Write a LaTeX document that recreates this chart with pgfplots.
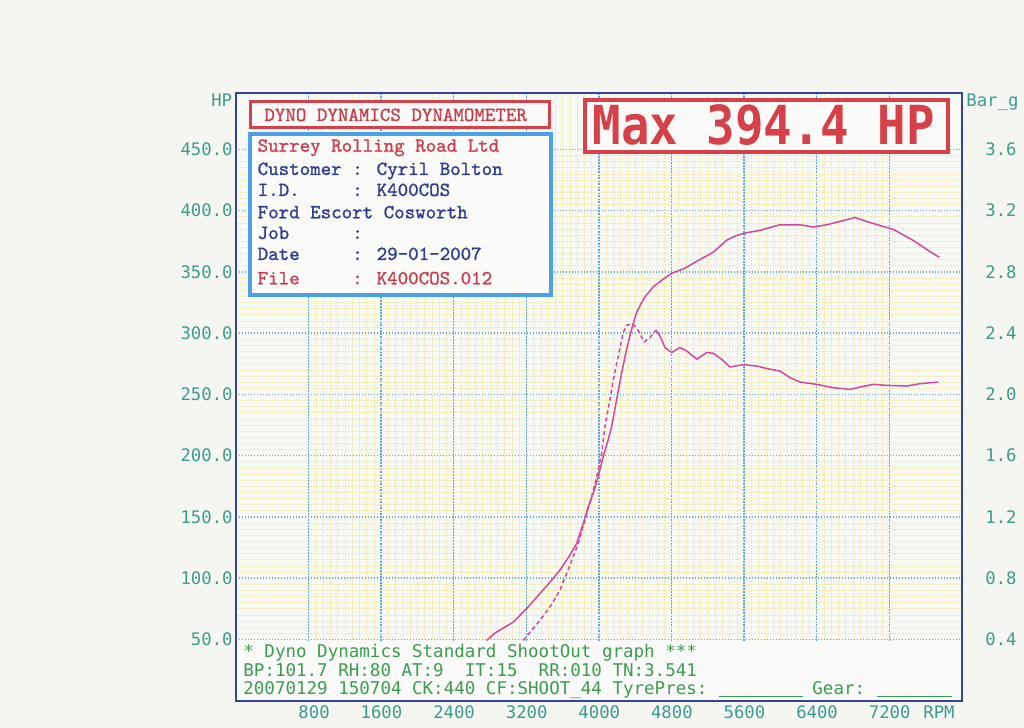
\documentclass[border=0pt]{standalone}
\usepackage{fontspec}
\usepackage{pgfplots}
\pgfplotsset{compat=1.18}
\definecolor{pagebg}{RGB}{245,245,242}
\definecolor{plotbg}{RGB}{248,248,244}
\definecolor{frameblue}{RGB}{52,66,160}
\definecolor{gridblue}{RGB}{96,164,222}
\definecolor{gridyellow}{RGB}{240,234,165}
\definecolor{curvecol}{RGB}{206,72,164}
\definecolor{tickteal}{RGB}{60,156,140}
\definecolor{infogreen}{RGB}{60,156,80}
\definecolor{boxred}{RGB}{214,64,72}
\definecolor{textred}{RGB}{200,64,80}
\definecolor{navy}{RGB}{46,62,142}
\definecolor{lightblue}{RGB}{76,160,230}
\definecolor{boxfill}{RGB}{250,250,248}
\newfontfamily\tickfont{DejaVu Sans Mono}
\newfontfamily\boxfont{lmmono10-regular.otf}[FakeBold=1.2]
\newfontfamily\maxfont{DejaVu Sans Mono}[FakeStretch=0.88]
\newcommand\tkf{\tickfont\fontsize{8.64pt}{10pt}\selectfont}
\newcommand\inff{\tickfont\fontsize{8.76pt}{10pt}\selectfont}
\newcommand\bxf{\boxfont\fontsize{10pt}{12pt}\selectfont}
\begin{document}
\begin{tikzpicture}
\fill[pagebg] (0,0) rectangle (512pt,364pt);
\begin{axis}[
  at={(118pt,13.65pt)}, anchor=south west, scale only axis,
  width=363pt, height=304pt,
  xmin=0, xmax=8000, ymin=0, ymax=496.3,
  xtick={800,1600,2400,3200,4000,4800,5600,6400,7200},
  xticklabels={800,1600,2400,3200,4000,4800,5600,6400,7200},
  ytick={50,100,150,200,250,300,350,400,450},
  yticklabels={50.0,100.0,150.0,200.0,250.0,300.0,350.0,400.0,450.0},
  minor x tick num=9, minor y tick num=9,
  grid=both,
  major grid style={draw=gridblue, line width=0.7pt, dash pattern=on 0.7pt off 0.8pt},
  minor grid style={draw=gridyellow, line width=0.35pt, dash pattern=on 1pt off 0.6pt},
  major tick length=0pt, minor tick length=0pt,
  axis line style={draw=frameblue, line width=1pt},
  axis background/.style={fill=plotbg},
  xticklabel style={font=\tkf, text=tickteal, anchor=base east, inner sep=0pt, xshift=10.75pt, yshift=-8.9pt},
  yticklabel style={font=\tkf, text=tickteal, anchor=east, inner sep=0pt, xshift=-1.5pt},
  clip=true,
]
\addplot[curvecol, line width=0.75pt] coordinates {
(2762,49.2) (2854,55.2) (3056,64.2) (3203,75.2) (3350,87.5) (3479,98.4) (3570,106.6)
(3680,118.9) (3754,128.4) (3827,144.8) (3882,158.4) (3937,169.4) (3992,183.0)
(4047,199.4) (4102,213.1) (4140,224.0) (4195,245.9) (4250,267.8) (4305,286.9)
(4360,303.3) (4415,317.0) (4470,325.0) (4510,330.0) (4600,338.0) (4704,343.9)
(4802,348.9) (4940,352.8) (5097,359.5) (5255,365.9) (5411,376.1) (5517,379.8)
(5627,382.0) (5774,383.9) (5994,388.5) (6215,388.5) (6361,386.6) (6509,388.5)
(6656,391.2) (6821,394.4) (6950,391.2) (7096,387.9) (7243,384.7) (7463,375.7)
(7647,366.6) (7750,362.0)};
\addplot[curvecol, line width=0.75pt, dash pattern=on 2pt off 1.5pt] coordinates {
(3166,49.2) (3350,65.6) (3460,76.5) (3570,90.2) (3680,110.7) (3772,128.4)
(3846,147.5) (3920,166.6) (3975,183.0) (4030,202.2) (4066,224.0) (4121,245.9)
(4158,262.3) (4213,281.4) (4268,300.6) (4305,306.6) (4378,307.4) (4433,301.9)
(4499,292.9) (4562,296.5) (4628,302.5)};
\addplot[curvecol, line width=0.75pt] coordinates {
(4628,302.5) (4672,297.8) (4727,288.3) (4801,284.2) (4892,288.3) (4966,285.5)
(5077,278.7) (5187,284.2) (5259,283.6) (5352,278.7) (5443,272.4) (5590,274.3)
(5738,273.2) (5848,271.1) (5994,269.1) (6104,263.7) (6215,260.1) (6399,258.2)
(6582,255.5) (6766,254.1) (6876,256.0) (7022,258.2) (7170,257.4) (7391,256.8)
(7537,258.8) (7739,260.1)};
\end{axis}
\begin{axis}[
  at={(118pt,13.65pt)}, anchor=south west, scale only axis,
  width=363pt, height=304pt,
  xmin=0, xmax=8000, ymin=0, ymax=3.9704,
  axis x line=none, axis y line*=right,
  y axis line style={draw=none},
  ytick={0.4,0.8,1.2,1.6,2.0,2.4,2.8,3.2,3.6},
  yticklabels={0.4,0.8,1.2,1.6,2.0,2.4,2.8,3.2,3.6},
  major tick length=0pt,
  yticklabel style={font=\tkf, text=tickteal, anchor=west, inner sep=0pt, xshift=11.5pt},
]
\end{axis}
\begin{scope}[x=0.5pt, y=-0.5pt, yshift=364pt]
  % bottom info panel
  \fill[boxfill] (237.2,640.6) rectangle (960.8,699.6);
  \node[anchor=base west, inner sep=0pt, font=\inff, text=infogreen] at (243,658) {* Dyno Dynamics Standard ShootOut graph ***};
  \node[anchor=base west, inner sep=0pt, font=\inff, text=infogreen] at (243,676.5) {BP:101.7 RH:80 AT:9~~IT:15~~RR:010 TN:3.541};
  \node[anchor=base west, inner sep=0pt, font=\inff, text=infogreen] at (243,695) {20070129 150704 CK:440 CF:SHOOT\_44 TyrePres:};
  \draw[infogreen, line width=0.8pt] (719,696.5) -- (803,696.5);
  \node[anchor=base west, inner sep=0pt, font=\inff, text=infogreen] at (812,695) {Gear:};
  \draw[infogreen, line width=0.8pt] (877,696.5) -- (952,696.5);
  % axis titles
  \node[anchor=base east, inner sep=0pt, font=\tkf, text=tickteal] at (232.5,107) {HP};
  \node[anchor=base west, inner sep=0pt, font=\tkf, text=tickteal] at (966,107) {Bar\_g};
  \node[anchor=base west, inner sep=0pt, font=\tkf, text=tickteal] at (923,718.5) {RPM};
  % title box
  \draw[boxred, line width=1.65pt, fill=boxfill] (250.7,101.6) rectangle (549.3,127.4);
  \node[anchor=base west, inner sep=0pt, font=\bxf, text=textred] at (264,121) {DYNO DYNAMICS DYNAMOMETER};
  % info box
  \draw[lightblue, line width=2pt, fill=boxfill] (250.3,133.7) rectangle (550.7,295.3);
  \node[anchor=base west, inner sep=0pt, font=\bxf, text=textred] at (257.3,151.7) {Surrey Rolling Road Ltd};
  \node[anchor=base west, inner sep=0pt, font=\bxf, text=navy] at (257.3,175) {Customer : Cyril Bolton};
  \node[anchor=base west, inner sep=0pt, font=\bxf, text=navy] at (257.3,196) {I.D.~~~~~: K400COS};
  \node[anchor=base west, inner sep=0pt, font=\bxf, text=navy] at (257.3,218.3) {Ford Escort Cosworth};
  \node[anchor=base west, inner sep=0pt, font=\bxf, text=navy] at (257.3,239) {Job~~~~~~:};
  \node[anchor=base west, inner sep=0pt, font=\bxf, text=navy] at (257.3,260) {Date~~~~~: 29-01-2007};
  \node[anchor=base west, inner sep=0pt, font=\bxf, text=textred] at (257.3,284.3) {File~~~~~: K400COS.012};
  % max box
  \draw[boxred, line width=2pt, fill=boxfill] (585,100) rectangle (948,152);
  \node[anchor=base, inner sep=0pt, font=\maxfont\bfseries\fontsize{26.9pt}{30pt}\selectfont, text=boxred] at (764,145) {Max 394.4 HP};
\end{scope}
\end{tikzpicture}
\end{document}
